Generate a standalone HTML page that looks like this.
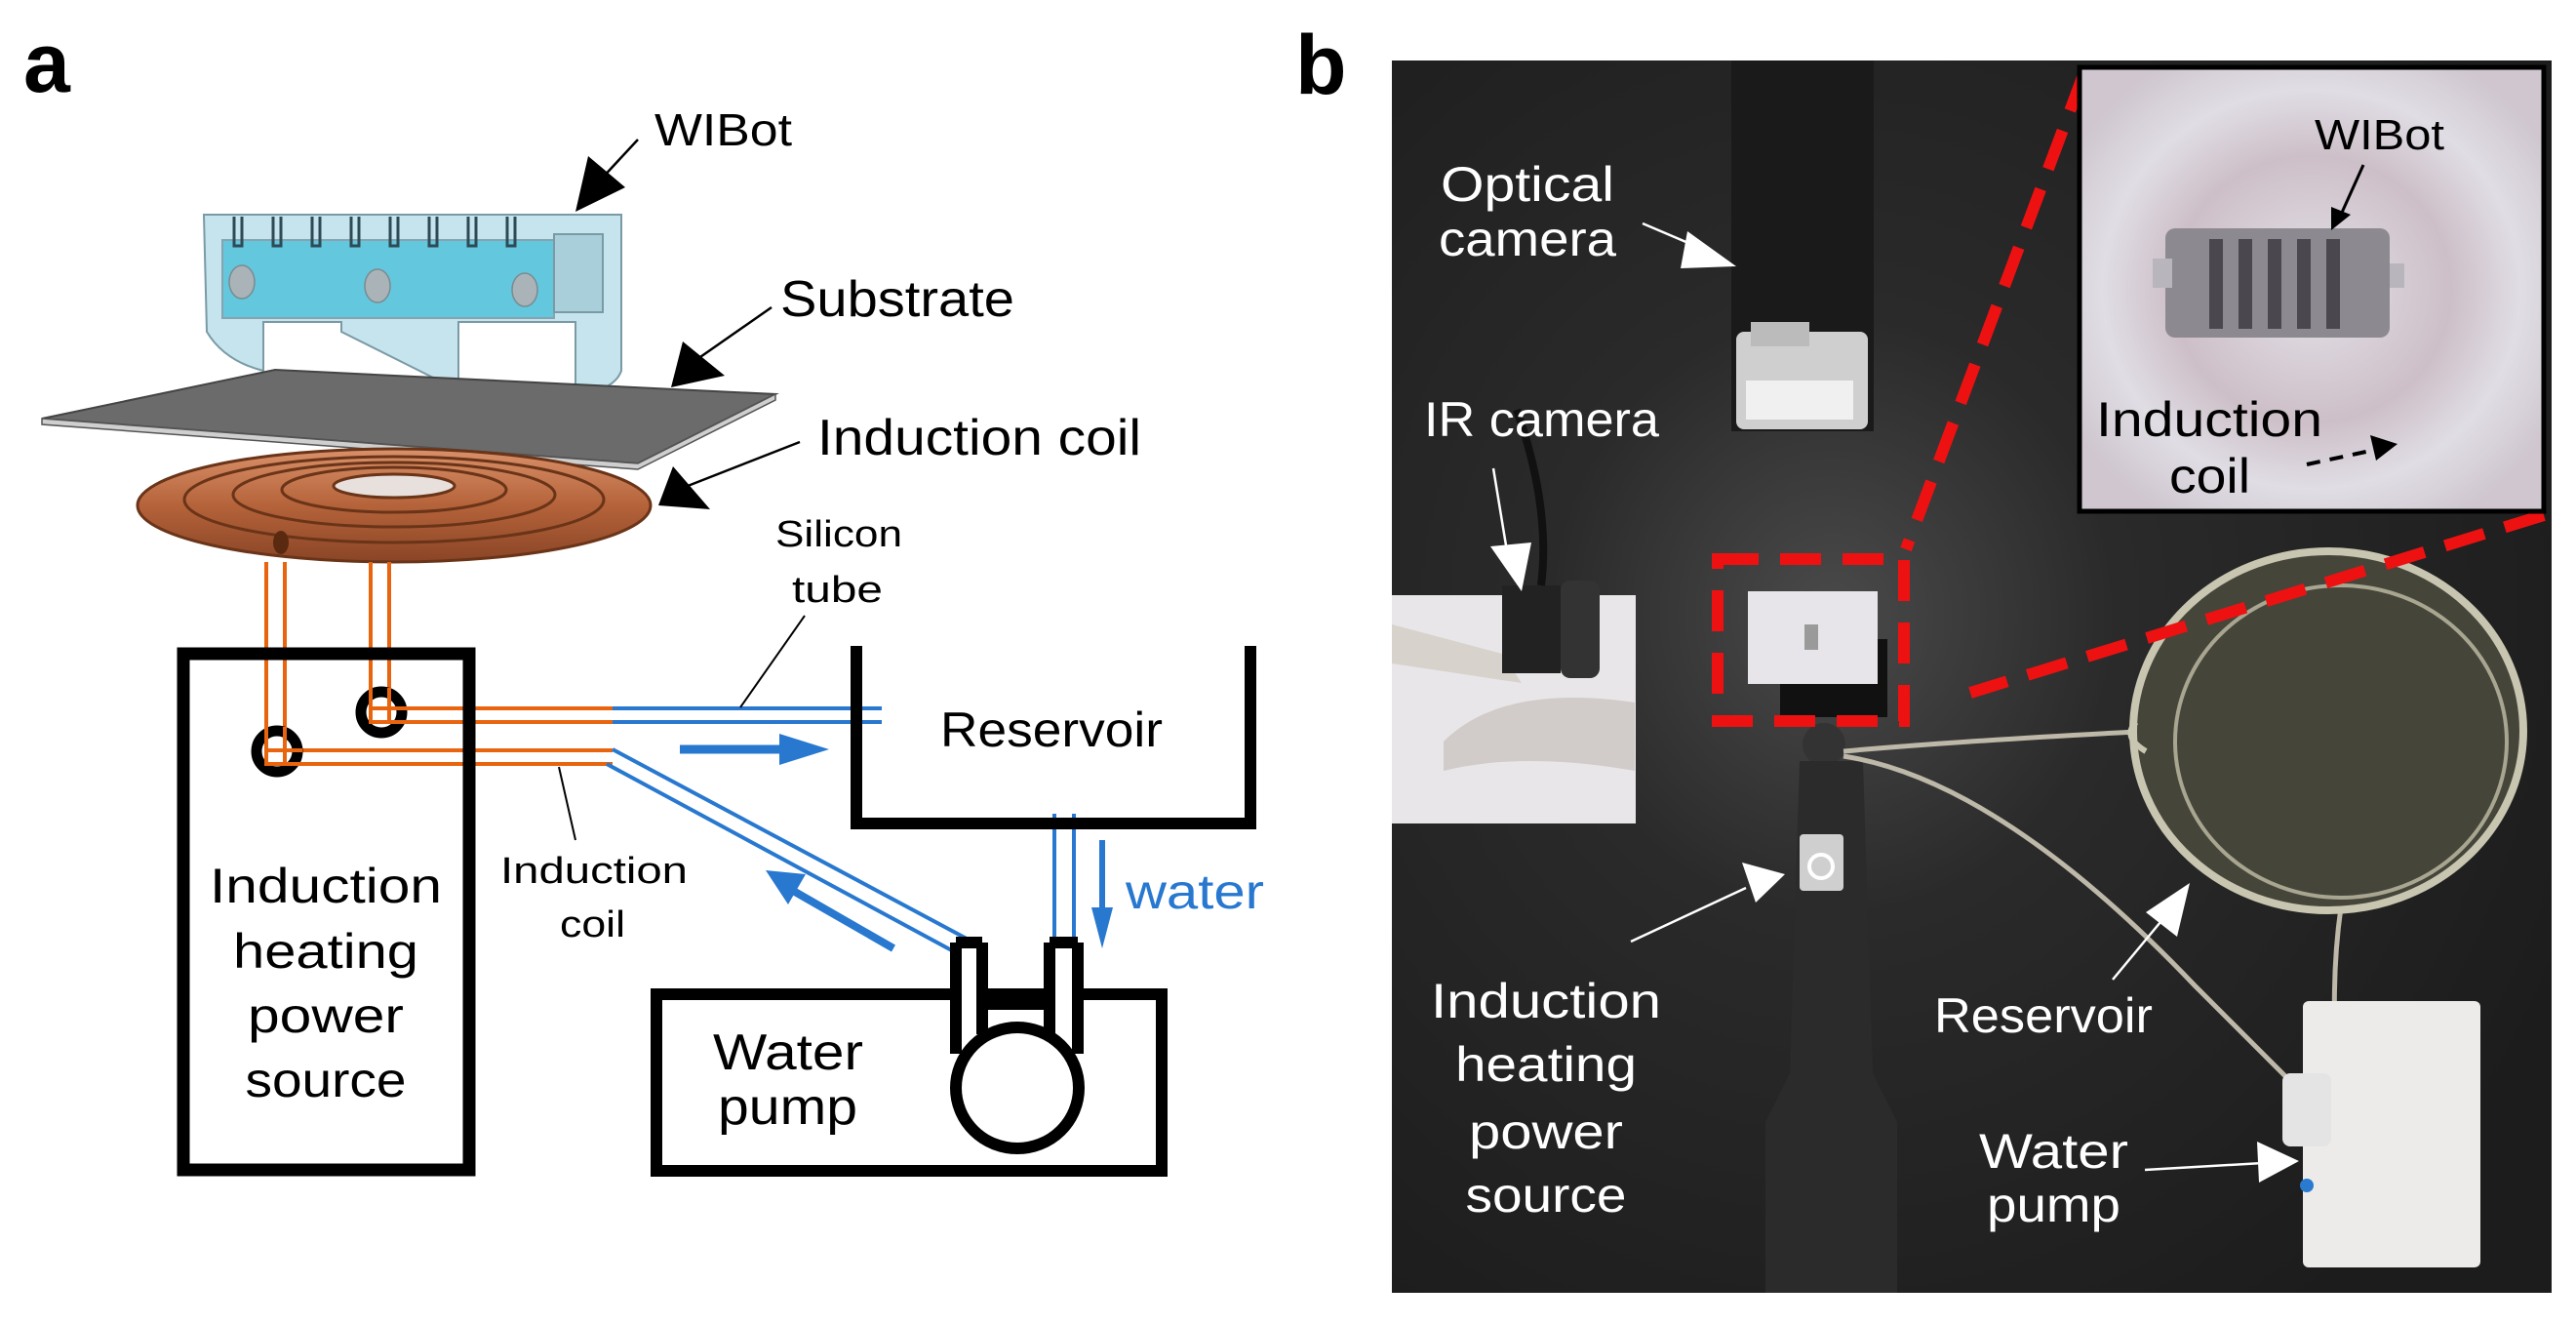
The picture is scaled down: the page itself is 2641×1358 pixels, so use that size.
<!DOCTYPE html>
<html><head><meta charset="utf-8"><style>
html,body{margin:0;padding:0;background:#fff;}
svg{display:block;}
text{font-family:"Liberation Sans",sans-serif;}
</style></head><body>
<svg width="2641" height="1358" viewBox="0 0 2641 1358" xmlns="http://www.w3.org/2000/svg">
<defs>
<radialGradient id="bg" cx="0.38" cy="0.45" r="0.7">
<stop offset="0" stop-color="#4a4a4a"/><stop offset="0.35" stop-color="#2a2a2a"/><stop offset="1" stop-color="#1c1c1c"/>
</radialGradient>
<radialGradient id="ins" cx="0.5" cy="0.5" r="0.6">
<stop offset="0" stop-color="#e4e2e8"/><stop offset="0.5" stop-color="#cdbfc8"/><stop offset="0.75" stop-color="#e0dde4"/><stop offset="1" stop-color="#cfc6cf"/>
</radialGradient>
<linearGradient id="cu" x1="0" y1="0" x2="0" y2="1">
<stop offset="0" stop-color="#d9916a"/><stop offset="0.5" stop-color="#b5633a"/><stop offset="1" stop-color="#8a4526"/>
</linearGradient>
</defs>

<!-- ===== Panel a ===== -->
<text x="24" y="94" font-size="86" font-weight="bold">a</text>

<!-- WIBot model -->
<g stroke="#7a9aa5" stroke-width="2">
<path d="M209 220 L637 220 L637 380 Q630 400 590 405 L590 330 L470 330 L470 400 L430 380 L350 340 L350 330 L270 330 L270 380 Q230 370 212 340 Z" fill="#c5e4ee"/>
<rect x="228" y="246" width="340" height="80" fill="#52c3db" opacity="0.85"/>
<rect x="568" y="240" width="50" height="80" fill="#a9cfdb"/>
</g>
<g fill="#aab4b8" stroke="#7a8a90" stroke-width="1.5">
<ellipse cx="248" cy="289" rx="13" ry="17"/><ellipse cx="387" cy="293" rx="13" ry="17"/><ellipse cx="538" cy="297" rx="13" ry="17"/>
</g>
<g stroke="#2e4a55" stroke-width="3" fill="none">
<path d="M240 222 v30 h8 v-30 M280 222 v30 h8 v-30 M320 222 v30 h8 v-30 M360 222 v30 h8 v-30 M400 222 v30 h8 v-30 M440 222 v30 h8 v-30 M480 222 v30 h8 v-30 M520 222 v30 h8 v-30"/>
</g>

<!-- Substrate plate -->
<path d="M43 429 L282 379 L795 404 L654 475 Z" fill="#6b6b6b" stroke="#444" stroke-width="2"/>
<path d="M43 429 L654 475 L795 404 L795 410 L654 481 L43 435 Z" fill="#cfcfcf" stroke="#555" stroke-width="1.5"/>

<!-- coil -->
<ellipse cx="404" cy="518" rx="263" ry="58" fill="url(#cu)" stroke="#6a3418" stroke-width="3"/>
<g fill="none" stroke="#6a3418" stroke-width="3">
<ellipse cx="404" cy="512" rx="215" ry="44"/>
<ellipse cx="404" cy="507" rx="165" ry="33"/>
<ellipse cx="404" cy="502" rx="115" ry="23"/>
</g>
<ellipse cx="404" cy="498" rx="62" ry="12" fill="#e8e0dc" stroke="#6a3418" stroke-width="3"/>
<ellipse cx="288" cy="556" rx="8" ry="12" fill="#5a2a10"/>

<!-- orange wires -->
<g stroke="#e8640f" stroke-width="4" fill="none">
<path d="M273 576 V769 H628"/><path d="M292 576 V783 H628"/>
<path d="M380 576 V726 H628"/><path d="M399 576 V740 H628"/>
</g>

<!-- power box -->
<rect x="188" y="670" width="293" height="529" fill="none" stroke="#000" stroke-width="13"/>
<circle cx="391" cy="730" r="21" fill="none" stroke="#000" stroke-width="11"/>
<circle cx="284" cy="770" r="21" fill="none" stroke="#000" stroke-width="11"/>
<g stroke="#e8640f" stroke-width="4" fill="none">
<path d="M380 705 V740 H420"/><path d="M399 705 V726 H420"/>
<path d="M273 745 V783 H310"/><path d="M292 745 V769 H310"/>
</g>
<g font-size="50" text-anchor="middle">
<text x="334" y="925" textLength="238" lengthAdjust="spacingAndGlyphs">Induction</text>
<text x="334" y="992" textLength="190" lengthAdjust="spacingAndGlyphs">heating</text>
<text x="334" y="1058" textLength="160" lengthAdjust="spacingAndGlyphs">power</text>
<text x="334" y="1124" textLength="165" lengthAdjust="spacingAndGlyphs">source</text>
</g>

<!-- blue tubes -->
<g stroke="#2878d0" stroke-width="4" fill="none">
<path d="M628 726 H904"/><path d="M628 740 H904"/>
<path d="M628 768 L991 962"/><path d="M622 783 L983 978"/>
<path d="M1081 834 V967"/><path d="M1101 834 V967"/>
</g>
<!-- blue arrows -->
<g fill="#2878d0" stroke="#2878d0">
<path d="M697 768 H805" stroke-width="9"/>
<path d="M799 752 L850 768 L799 784 Z" stroke="none"/>
<path d="M916 972 L815 914" stroke-width="8"/>
<path d="M785 892 L826 896 L808 927 Z" stroke="none"/>
<path d="M1130 861 V935" stroke-width="6"/>
<path d="M1119 930 L1130 972 L1141 930 Z" stroke="none"/>
</g>
<text x="1154" y="931" font-size="50" fill="#2878d0" textLength="142" lengthAdjust="spacingAndGlyphs">water</text>

<!-- reservoir -->
<path d="M878 662 V844 H1282 V662" fill="none" stroke="#000" stroke-width="12"/>
<text x="964" y="765" font-size="50" textLength="228" lengthAdjust="spacingAndGlyphs">Reservoir</text>

<!-- pump -->
<rect x="673" y="1019" width="518" height="181" fill="none" stroke="#000" stroke-width="12"/>
<rect x="985" y="1010" width="18" height="20" fill="#fff"/>
<rect x="1080" y="1010" width="22" height="20" fill="#fff"/>
<path d="M980 966 V1080 M1007 966 V1060 M1076 966 V1060 M1105 966 V1080 M980 966 H1007 M1076 966 H1105" stroke="#000" stroke-width="12" fill="none"/>
<path d="M1007 1030 H1076" stroke="#000" stroke-width="10"/>
<ellipse cx="1043" cy="1115" rx="63" ry="62" fill="#fff" stroke="#000" stroke-width="12"/>
<text x="731" y="1096" font-size="52" textLength="154" lengthAdjust="spacingAndGlyphs">Water</text>
<text x="736" y="1152" font-size="52" textLength="143" lengthAdjust="spacingAndGlyphs">pump</text>

<!-- labels a -->
<text x="671" y="149" font-size="46" textLength="141" lengthAdjust="spacingAndGlyphs">WIBot</text>
<path d="M654 143 L615 185" stroke="#000" stroke-width="2.5"/>
<path d="M590 217 L603 160 L641 192 Z" fill="#000"/>
<text x="800" y="324" font-size="52" textLength="240" lengthAdjust="spacingAndGlyphs">Substrate</text>
<path d="M791 315 L715 368" stroke="#000" stroke-width="2.5"/>
<path d="M688 397 L700 350 L743 385 Z" fill="#000"/>
<text x="838" y="466" font-size="52" textLength="332" lengthAdjust="spacingAndGlyphs">Induction coil</text>
<path d="M820 453 L700 500" stroke="#000" stroke-width="2.5"/>
<path d="M675 518 L690 478 L728 522 Z" fill="#000"/>
<text x="795" y="560" font-size="38" textLength="130" lengthAdjust="spacingAndGlyphs">Silicon</text>
<text x="812" y="617" font-size="38" textLength="93" lengthAdjust="spacingAndGlyphs">tube</text>
<path d="M825 631 L759 725" stroke="#000" stroke-width="2"/>
<text x="513" y="905" font-size="38" textLength="192" lengthAdjust="spacingAndGlyphs">Induction</text>
<text x="574" y="960" font-size="38" textLength="67" lengthAdjust="spacingAndGlyphs">coil</text>
<path d="M573 786 L590 861" stroke="#000" stroke-width="2"/>

<!-- ===== Panel b ===== -->
<text x="1328" y="96" font-size="86" font-weight="bold">b</text>
<rect x="1427" y="62" width="1189" height="1263" fill="url(#bg)"/>
<!-- optical camera -->
<rect x="1775" y="62" width="146" height="380" fill="#1a1a1a"/>
<rect x="1780" y="340" width="135" height="100" rx="8" fill="#cfcfcf"/>
<rect x="1790" y="390" width="110" height="40" fill="#f0f0f0"/>
<rect x="1795" y="330" width="60" height="25" fill="#bbb"/>
<!-- IR camera board -->
<rect x="1427" y="610" width="250" height="234" fill="#e8e6e8"/>
<path d="M1427 640 L1540 670 L1560 700 L1427 680 Z" fill="#d8d2cc"/>
<path d="M1480 760 Q1540 700 1676 720 L1676 790 Q1560 770 1480 790 Z" fill="#c8c0bc" opacity="0.7"/>
<rect x="1540" y="600" width="60" height="90" fill="#222"/>
<rect x="1600" y="595" width="40" height="100" rx="10" fill="#333"/>
<path d="M1580 600 Q1590 520 1555 420" stroke="#111" stroke-width="8" fill="none"/>
<!-- robot box -->
<rect x="1825" y="655" width="110" height="80" fill="#111"/>
<rect x="1792" y="606" width="133" height="95" fill="#e7e5ea"/>
<rect x="1850" y="640" width="14" height="26" fill="#9a9a9a"/>
<circle cx="1870" cy="763" r="22" fill="#333"/>
<!-- handle -->
<path d="M1845 780 L1910 780 L1920 1100 L1945 1150 L1945 1325 L1810 1325 L1810 1150 L1835 1100 Z" fill="#2b2b2b"/>
<rect x="1845" y="855" width="45" height="58" rx="4" fill="#cfcfcf"/>
<circle cx="1867" cy="888" r="12" fill="none" stroke="#fff" stroke-width="4"/>
<!-- tubes -->
<path d="M1890 770 Q2000 760 2190 750" stroke="#bdb8a8" stroke-width="5" fill="none"/>
<path d="M1890 775 Q2050 800 2250 1010 Q2320 1080 2380 1140" stroke="#bdb8a8" stroke-width="5" fill="none"/>
<path d="M2400 930 Q2390 1000 2395 1080" stroke="#bdb8a8" stroke-width="5" fill="none"/>
<!-- beaker -->
<ellipse cx="2387" cy="749" rx="200" ry="184" fill="#45453a" stroke="#c8c6b0" stroke-width="8"/>
<ellipse cx="2400" cy="760" rx="170" ry="160" fill="none" stroke="#a8a690" stroke-width="4"/>
<path d="M2190 740 Q2175 755 2200 770" stroke="#c8c6b0" stroke-width="6" fill="none"/>
<!-- pump box -->
<rect x="2361" y="1026" width="182" height="273" rx="6" fill="#ecebea"/>
<rect x="2340" y="1100" width="50" height="75" rx="8" fill="#e4e4e4"/>
<circle cx="2365" cy="1215" r="7" fill="#2a7bd0"/>

<!-- red dashed -->
<g stroke="#ee1111" stroke-width="12" fill="none" stroke-dasharray="42 22">
<rect x="1761" y="573" width="191" height="166"/>
<path d="M2137 74 L1954 563"/>
<path d="M2608 528 L2020 710"/>
</g>

<!-- inset -->
<rect x="2132" y="69" width="476" height="455" fill="url(#ins)" stroke="#000" stroke-width="5"/>
<rect x="2220" y="234" width="230" height="112" rx="10" fill="#8c8a90"/>
<rect x="2207" y="265" width="20" height="30" fill="#b8b6bc"/>
<rect x="2450" y="270" width="15" height="25" fill="#b8b6bc"/>
<g fill="#4a484e"><rect x="2265" y="245" width="14" height="92"/><rect x="2295" y="245" width="14" height="92"/><rect x="2325" y="245" width="14" height="92"/><rect x="2355" y="245" width="14" height="92"/><rect x="2385" y="245" width="14" height="92"/></g>
<text x="2373" y="153" font-size="44" textLength="133" lengthAdjust="spacingAndGlyphs">WIBot</text>
<path d="M2423 169 L2400 220" stroke="#000" stroke-width="3"/>
<path d="M2390 236 L2390 212 L2410 220 Z" fill="#000"/>
<text x="2149" y="447" font-size="50" textLength="232" lengthAdjust="spacingAndGlyphs">Induction</text>
<text x="2224" y="505" font-size="50" textLength="83" lengthAdjust="spacingAndGlyphs">coil</text>
<path d="M2365 476 L2435 461" stroke="#000" stroke-width="4" stroke-dasharray="14 10"/>
<path d="M2458 455 L2430 446 L2436 472 Z" fill="#000"/>

<!-- white labels -->
<g fill="#fff" font-size="50">
<text x="1477" y="206" textLength="178" lengthAdjust="spacingAndGlyphs">Optical</text>
<text x="1475" y="262" textLength="182" lengthAdjust="spacingAndGlyphs">camera</text>
<text x="1460" y="447" textLength="241" lengthAdjust="spacingAndGlyphs">IR camera</text>
<g text-anchor="middle">
<text x="1585" y="1043" textLength="236" lengthAdjust="spacingAndGlyphs">Induction</text>
<text x="1585" y="1108" textLength="186" lengthAdjust="spacingAndGlyphs">heating</text>
<text x="1585" y="1177" textLength="158" lengthAdjust="spacingAndGlyphs">power</text>
<text x="1585" y="1242" textLength="165" lengthAdjust="spacingAndGlyphs">source</text>
</g>
<text x="1983" y="1058" textLength="224" lengthAdjust="spacingAndGlyphs">Reservoir</text>
<text x="2029" y="1197" textLength="153" lengthAdjust="spacingAndGlyphs">Water</text>
<text x="2037" y="1252" textLength="137" lengthAdjust="spacingAndGlyphs">pump</text>
</g>
<g stroke="#fff" stroke-width="2.5" fill="#fff">
<path d="M1684 229 L1745 255"/><path d="M1780 273 L1730 237 L1723 275 Z" stroke="none"/>
<path d="M1531 480 L1545 565"/><path d="M1560 606 L1528 560 L1570 556 Z" stroke="none"/>
<path d="M1672 965 L1790 910"/><path d="M1830 896 L1786 884 L1800 925 Z" stroke="none"/>
<path d="M2166 1004 L2215 945"/><path d="M2245 905 L2200 935 L2232 960 Z" stroke="none"/>
<path d="M2199 1199 L2320 1192"/><path d="M2357 1190 L2314 1170 L2316 1212 Z" stroke="none"/>
</g>
</svg>
</body></html>
